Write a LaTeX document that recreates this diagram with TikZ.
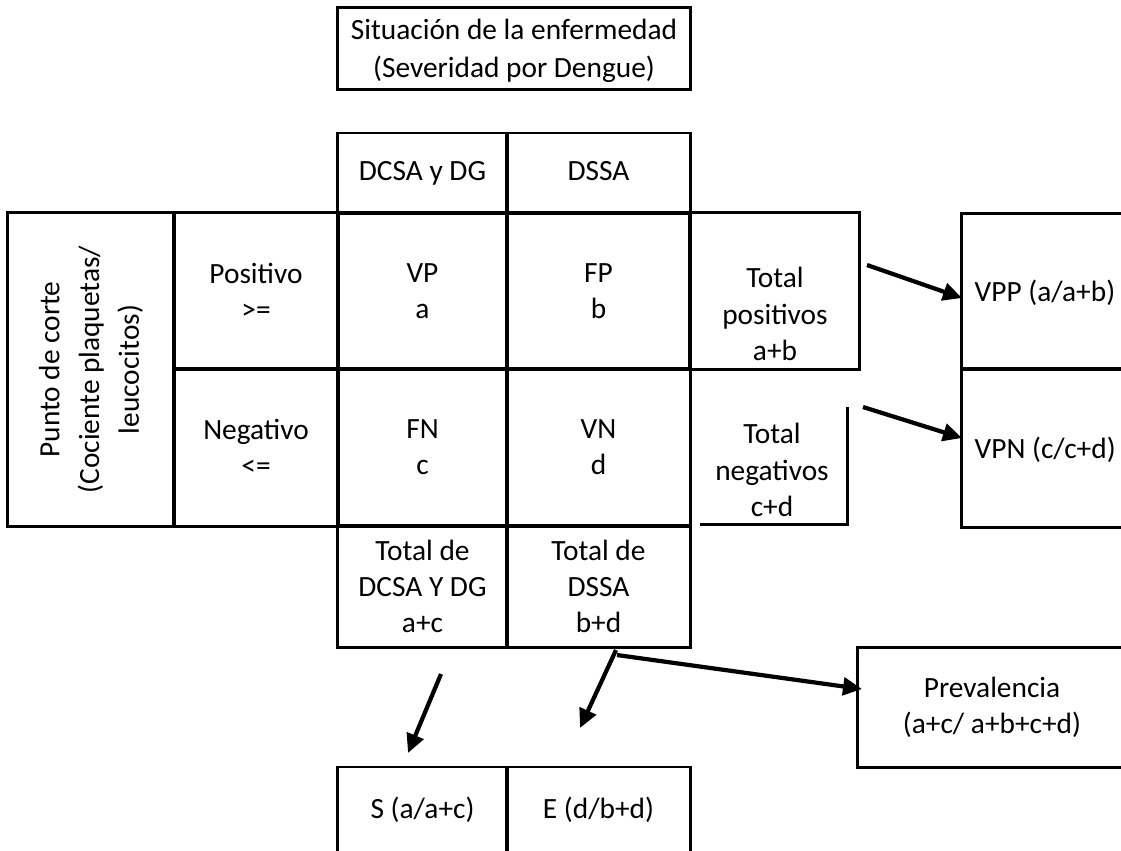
\documentclass[tikz,border=0pt]{standalone}
\usepackage{fontspec}
\setmainfont{Carlito}
\usetikzlibrary{arrows.meta,positioning}
\tikzset{
    x=0.01cm, y=-0.01cm,
    cell/.style={rectangle, draw, line width=0.85pt, align=center, inner sep=0pt,
                 minimum width=1.69cm, minimum height=1.56cm},
    txt/.style={align=center, inner sep=0pt},
    arr/.style={-{Triangle[length=5.4pt,width=5pt]}, line width=1.2pt}
}
\begin{document}
\begin{tikzpicture}[font=\fontsize{8.35}{10.3}\selectfont]
    \clip (0,0) rectangle (1121,850);
    \node[cell, minimum width=3.52cm, minimum height=0.81cm] (sit) at (514,48.5) {};
    \node[txt, font=\fontsize{8.35}{10.8}\selectfont] (sittxt) at (514,51) {Situación de la enfermedad\\(Severidad por Dengue)};

    \node[cell, minimum height=0.80cm] (dcsa) at (422.5,173) {\strut DCSA y DG};
    \node[cell, minimum width=1.83cm, minimum height=0.80cm] (dssa) at (598.5,173) {\strut DSSA};

    \node[cell, rotate=90, minimum width=3.13cm, minimum height=1.66cm,
          font=\fontsize{8.35}{11.3}\selectfont] (corte) at (91,369.5) {Punto de corte\\(Cociente plaquetas/\\leucocitos)};
    \node[cell, minimum width=1.64cm] (pos) at (256,291) {Positivo\\>=};
    \node[cell, minimum width=1.64cm, minimum height=1.57cm] (neg) at (256,447.5) {Negativo\\<=};

    \node[cell] (vp) at (422.5,291) {VP\\a};
    \node[cell, minimum width=1.83cm] (fp) at (598.5,291) {FP\\b};
    \node[cell, minimum height=1.57cm] (fn) at (422.5,447.5) {FN\\c};
    \node[cell, minimum width=1.83cm, minimum height=1.57cm] (vn) at (598.5,447.5) {VN\\d};

    \node[cell] (totpos) at (774.5,291) {};
    \node[txt] (totpostxt) at (775,314) {Total\\positivos\\a+b};
    \draw[line width=0.85pt] (700,524) -- (847,524) -- (847,407);
    \node[txt] (totneg) at (772,470) {Total\\negativos\\c+d};

    \node[cell, minimum width=3.40cm, minimum height=1.55cm] (vpp) at (1132,291.5) {};
    \node[cell, minimum width=3.40cm, minimum height=1.58cm] (vpn) at (1132,448) {};
    \node[txt, anchor=west] (vpptxt) at (974,293) {VPP (a/a+b)};
    \node[txt, anchor=west] (vpntxt) at (974,450) {VPN (c/c+d)};

    \node[cell, minimum height=1.21cm] (totdc) at (422.5,586.5) {Total de\\DCSA Y DG\\a+c};
    \node[cell, minimum width=1.83cm, minimum height=1.21cm] (totds) at (598.5,586.5) {Total de\\DSSA\\b+d};

    \node[cell, minimum height=0.86cm] (sens) at (422.5,810) {S (a/a+c)};
    \node[cell, minimum width=1.83cm, minimum height=0.86cm] (espec) at (598.5,810) {E (d/b+d)};

    \node[cell, minimum width=2.68cm, minimum height=1.19cm] (prev) at (992,707.5) {Prevalencia\\(a+c/ a+b+c+d)};

    % flechas
    \coordinate (a1) at (867,265);  \coordinate (b1) at (962,298);
    \coordinate (a2) at (863,407);  \coordinate (b2) at (962,438);
    \coordinate (a3) at (441,674);  \coordinate (b3) at (408,753);
    \coordinate (a4) at (616,650);  \coordinate (b4) at (580,728);
    \coordinate (a5) at (617,655);  \coordinate (b5) at (862,689);
    \draw[arr] (a1) -- (b1);
    \draw[arr] (a2) -- (b2);
    \draw[arr] (a3) -- (b3);
    \draw[arr] (a4) -- (b4);
    \draw[arr] (a5) -- (b5);
\end{tikzpicture}
\end{document}
